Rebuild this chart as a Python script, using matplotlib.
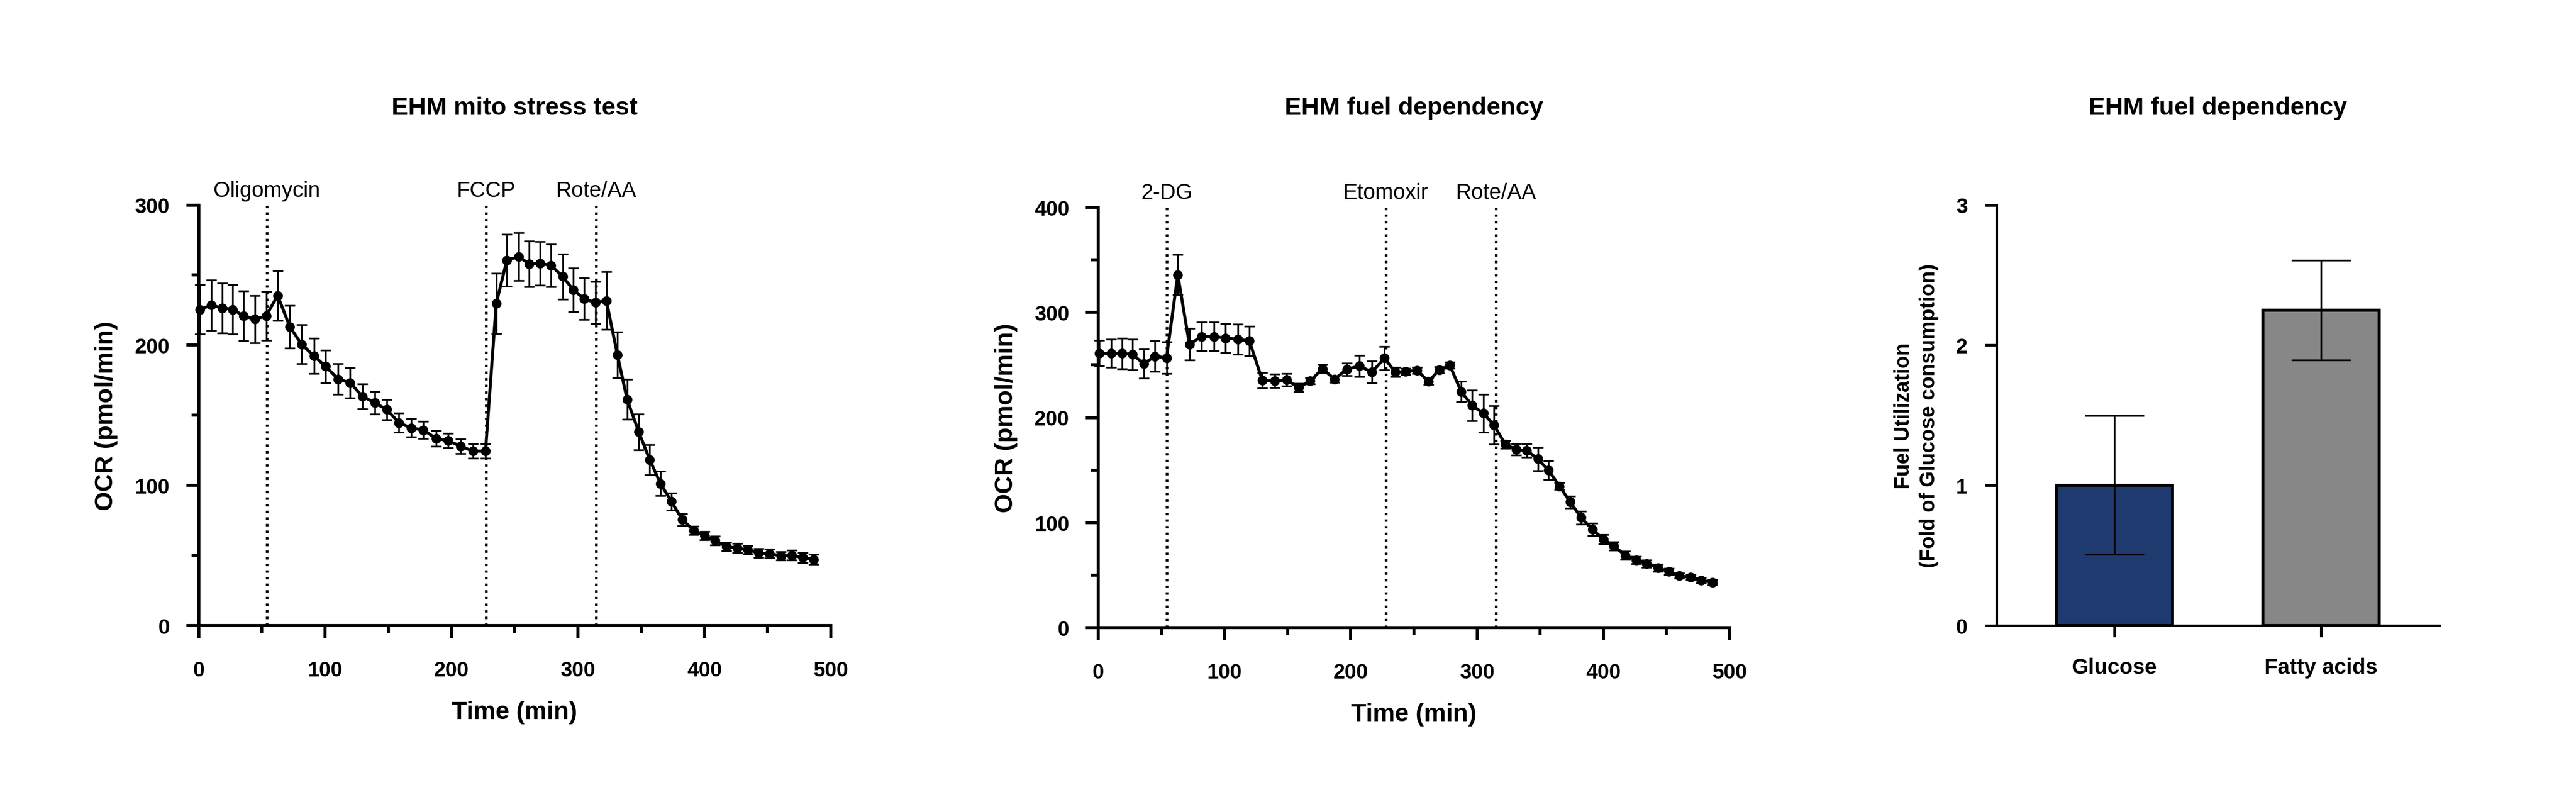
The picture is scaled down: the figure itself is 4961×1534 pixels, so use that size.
import matplotlib
matplotlib.use('Agg')
import matplotlib.pyplot as plt
import matplotlib.transforms as mtransforms

plt.rcParams['font.family'] = ['Liberation Sans', 'DejaVu Sans']

# ---------------- data ----------------
# Panel 1: EHM mito stress test
mito_time = [1.0, 10.0, 18.6, 27.1, 35.6, 44.6, 53.4,
             62.5, 72.2, 81.5, 91.2, 100.5, 110.4, 119.7, 129.6, 139.3, 148.9,
             158.5, 168.0, 177.8, 187.7, 197.3, 207.2, 217.0, 226.9,
             235.4, 243.8, 253.1, 261.6, 270.2, 278.8, 287.9, 296.4, 305.1, 313.9,
             322.5, 331.2, 338.9, 348.1, 356.8, 365.3, 374.0, 382.6, 391.7, 400.0,
             408.4, 417.3, 425.9, 434.4, 443.1, 451.7, 460.5, 469.2, 477.7, 486.4]
mito_ocr = [225.5, 228.5, 226.5, 225.5, 220.9, 218.5, 220.9,
            235.4, 213.0, 200.6, 192.3, 184.8, 175.8, 173.2, 163.5, 158.9, 154.0,
            144.6, 141.0, 139.5, 133.5, 131.9, 127.9, 124.4, 124.4,
            229.7, 260.6, 263.2, 257.9, 258.3, 256.9, 248.9, 239.4, 233.0, 230.4,
            231.8, 193.1, 161.3, 138.1, 118.2, 101.3, 88.4, 75.5, 67.9, 64.0,
            60.6, 56.4, 55.2, 54.0, 51.7, 51.3, 49.7, 50.1, 48.5, 47.1]
mito_sem = [17.6, 18.0, 17.7, 17.5, 17.8, 17.0, 17.3,
            17.8, 15.2, 14.0, 12.7, 11.7, 10.8, 10.7, 9.0, 7.9, 7.2,
            6.8, 6.5, 6.2, 5.6, 5.3, 5.2, 5.2, 5.2,
            21.5, 18.6, 17.0, 16.4, 15.6, 15.2, 16.1, 15.4, 14.9, 15.0,
            20.6, 16.2, 14.2, 12.7, 10.9, 8.6, 6.0, 4.2, 3.0, 3.0,
            3.0, 3.0, 3.5, 3.0, 3.0, 3.0, 3.0, 3.5, 3.5, 3.5]
mito_inj_time = [54.0, 227.4, 314.5]
mito_inj_name = ['Oligomycin', 'FCCP', 'Rote/AA']

# Panel 2: EHM fuel dependency (OCR trace)
fuel_time = [1.0, 10.3, 18.9, 27.2, 36.1, 45.0, 54.1,
             63.0, 72.2, 81.9, 91.5, 100.9, 110.5, 119.7, 130.0, 139.7, 149.3, 158.7,
             167.9, 177.5, 187.2, 196.8, 206.8, 216.8, 226.7,
             235.1, 243.6, 252.6, 261.5, 270.1, 278.5, 287.4, 296.2, 304.9, 313.4,
             322.4, 331.1,
             339.4, 348.1, 356.6, 365.3, 373.8, 382.5, 391.3, 400.0, 408.5, 417.2,
             425.9, 434.4, 443.1, 451.9, 460.3, 469.1, 477.5, 486.3]
fuel_ocr = [261.2, 260.9, 260.9, 259.9, 251.1, 258.3, 256.7,
            335.9, 269.7, 277.1, 277.1, 275.5, 274.4, 272.8, 235.2, 234.7, 235.8, 228.3,
            234.7, 246.4, 236.5, 245.8, 249.0, 243.2, 256.4,
            243.2, 243.7, 244.8, 234.2, 245.3, 249.5, 224.6, 211.4, 204.0, 192.8,
            174.3, 169.5,
            168.5, 160.5, 149.7, 134.6, 119.5, 104.6, 93.5, 84.2, 77.6, 68.9,
            64.4, 60.9, 57.0, 53.2, 49.3, 47.9, 45.0, 43.2]
fuel_sem = [12.2, 13.4, 14.6, 14.6, 14.0, 14.7, 15.1,
            19.0, 15.0, 13.4, 13.4, 13.8, 14.3, 14.2, 7.4, 6.5, 6.0, 4.0,
            3.0, 4.0, 3.0, 6.0, 10.3, 10.3, 11.1,
            4.6, 3.0, 3.0, 3.0, 3.0, 3.0, 9.7, 14.7, 18.0, 18.3,
            3.7, 5.4,
            6.5, 11.3, 8.9, 3.3, 5.6, 6.2, 5.8, 4.5, 4.0, 4.0,
            3.5, 3.5, 3.5, 3.0, 2.5, 2.5, 2.5, 2.5]
fuel_inj_time = [54.4, 227.8, 314.9]
fuel_inj_name = ['2-DG', 'Etomoxir', 'Rote/AA']

# Panel 3: fuel utilization bars
bar_categories = ['Glucose', 'Fatty acids']
bar_values = [1.0, 2.25]
bar_errors = [0.495, 0.355]
bar_colors = ['#1f3a6e', '#878787']

# Tick labels
time_ticks = [0, 100, 200, 300, 400, 500]
time_minor = [50, 150, 250, 350, 450]
mito_yticks = [0, 100, 200, 300]
fuel_yticks = [0, 100, 200, 300, 400]
ocr_minor_mito = [50, 150, 250]
ocr_minor_fuel = [50, 150, 250, 350]
bar_yticks = [0, 1, 2, 3]

titles = ['EHM mito stress test', 'EHM fuel dependency', 'EHM fuel dependency']

# ---------------- layout ----------------
W, H, DPI = 4961, 1535, 300
fig = plt.figure(figsize=(W / DPI, H / DPI), dpi=DPI)
fig.patch.set_facecolor('white')


def px_axes(l, r, b, t):
    return fig.add_axes([l / W, 1 - b / H, (r - l) / W, (b - t) / H])


ax1 = px_axes(382.5, 1600, 1205, 395.5)
ax2 = px_axes(2115, 3331, 1209, 400)
ax3 = px_axes(3845, 4698, 1204.6, 395.5)


def style_common(ax, lw):
    for s in ['top', 'right']:
        ax.spines[s].set_visible(False)
    for s in ['left', 'bottom']:
        ax.spines[s].set_linewidth(lw)
        ax.spines[s].set_capstyle('projecting')


def line_panel(ax, t, v, e, ymax, yticks, yminor, inj_t, inj_n):
    ax.errorbar(t, v, yerr=e, color='black', lw=1.4, marker='o', ms=3.5,
                elinewidth=0.8, capsize=2.3, capthick=0.8, zorder=3,
                clip_on=False)
    ax.set_xlim(0, 500)
    ax.set_ylim(0, ymax)
    ax.set_xticks(time_ticks, labels=[str(x) for x in time_ticks],
                  fontsize=9.7, fontweight='bold')
    ax.set_xticks(time_minor, minor=True)
    ax.set_yticks(yticks, labels=[str(y) for y in yticks],
                  fontsize=9.7, fontweight='bold')
    ax.set_yticks(yminor, minor=True)
    style_common(ax, 1.4)
    ax.tick_params(which='major', length=5.8, width=1.4, direction='out')
    ax.tick_params(which='minor', length=3.4, width=1.4, direction='out')
    ax.tick_params(axis='x', which='major', pad=10.3)
    ax.tick_params(axis='y', which='major', pad=7.6)
    trans = mtransforms.blended_transform_factory(ax.transData, ax.transAxes)
    for x, name in zip(inj_t, inj_n):
        ax.axvline(x, 0, 1, color='black', lw=1.25, ls=(0, (0.9, 1.55)),
                   zorder=2)
        ax.text(x, 1.021, name, transform=trans, ha='center', va='baseline',
                fontsize=10)
    ax.set_xlabel('Time (min)', fontsize=11.5, fontweight='bold')
    ax.xaxis.set_label_coords(0.5, -0.178)
    ax.set_ylabel('OCR (pmol/min)', fontsize=11.5, fontweight='bold')
    ax.yaxis.set_label_coords(-0.1277, 0.5)


line_panel(ax1, mito_time, mito_ocr, mito_sem, 300, mito_yticks, ocr_minor_mito,
           mito_inj_time, mito_inj_name)
line_panel(ax2, fuel_time, fuel_ocr, fuel_sem, 400, fuel_yticks, ocr_minor_fuel,
           fuel_inj_time, fuel_inj_name)

# bar panel
xpos = list(range(len(bar_categories)))
ax3.bar(xpos, bar_values, width=0.563, color=bar_colors, edgecolor='black',
        linewidth=1.4, zorder=2)
ax3.errorbar(xpos, bar_values, yerr=bar_errors, fmt='none', ecolor='black',
             elinewidth=0.8, capsize=13.7, capthick=0.8, zorder=3)
ax3.set_xlim(-0.57, 1.573)
ax3.set_ylim(0, 3)
ax3.set_xticks(xpos, labels=bar_categories, fontsize=10, fontweight='bold')
ax3.set_yticks(bar_yticks, labels=[str(y) for y in bar_yticks],
               fontsize=9.7, fontweight='bold')
style_common(ax3, 1.2)
ax3.tick_params(which='major', length=5.2, width=1.2, direction='out')
ax3.tick_params(axis='x', pad=9.6)
ax3.tick_params(axis='y', pad=8.2)
ax3.set_ylabel('Fuel Utilization\n(Fold of Glucose consumption)', fontsize=9.5,
               fontweight='bold', linespacing=1.35)
ax3.yaxis.set_label_coords(-0.1306, 0.5)

# titles
for ax, title in zip([ax1, ax2, ax3], titles):
    bb = ax.get_position()
    fig.text(bb.x0 + bb.width / 2, 1 - 221 / H, title, ha='center',
             va='baseline', fontsize=11.5, fontweight='bold')

fig.savefig('out.png', dpi=DPI, facecolor='white')
